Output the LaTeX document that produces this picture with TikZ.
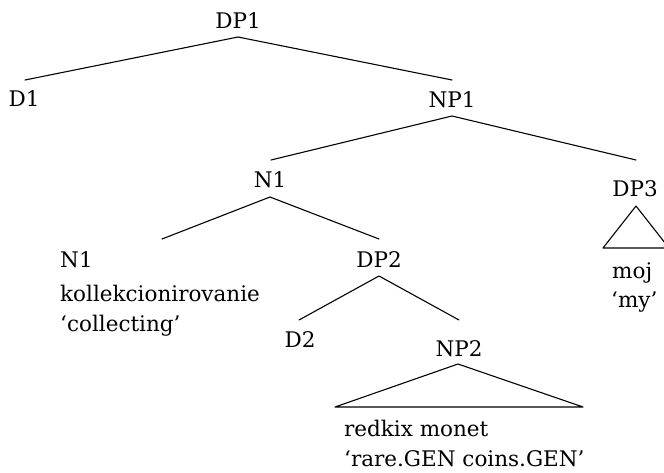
\documentclass[tikz,border=0pt]{standalone}
\usepackage{fontspec}
\setmainfont{DejaVu Serif}
\begin{document}
\begin{tikzpicture}[x=1pt,y=-1pt,
  lbl/.style={inner sep=0pt,anchor=base,font=\fontsize{21.5}{25}\selectfont},
  lblw/.style={lbl,anchor=base west},
  branch/.style={line width=1.1pt,line cap=round,line join=round}]
\useasboundingbox (0,0) rectangle (664,472);

% labels
\node[lbl]  (DP1)  at (238,28)  {DP1};
\node[lbl]  (D1)   at (24,106)  {D1};
\node[lbl]  (NP1)  at (452,107) {NP1};
\node[lbl]  (N1)   at (270,187) {N1};
\node[lbl]  (DP3)  at (635,196) {DP3};
\node[lblw] (N1l)  at (60,267)  {N1};
\node[lblw] (kol)  at (60,301)  {kollekcionirovanie};
\node[lblw] (col)  at (60,331)  {‘collecting’};
\node[lbl]  (DP2)  at (379,267) {DP2};
\node[lbl]  (D2)   at (300,347) {D2};
\node[lbl]  (NP2)  at (459,356) {NP2};
\node[lblw] (red)  at (344,436) {redkix monet};
\node[lblw] (rare) at (344,466) {‘rare.GEN coins.GEN’};
\node[lblw] (moj)  at (612,278) {moj};
\node[lblw] (my)   at (611,307) {‘my’};

% branch end points
\coordinate (DP1b) at (238,37);
\coordinate (D1t)  at (25,80);
\coordinate (NP1t) at (452,80);
\coordinate (NP1b) at (452,116);
\coordinate (N1t)  at (271,160);
\coordinate (DP3t) at (636,160);
\coordinate (N1b)  at (270,197);
\coordinate (N1lt) at (162,239);
\coordinate (DP2t) at (379,239);
\coordinate (DP2b) at (379,276);
\coordinate (D2t)  at (299,320);
\coordinate (NP2t) at (459,320);
\coordinate (NP2a) at (458,364);
\coordinate (NP2l) at (335,407);
\coordinate (NP2r) at (583,407);
\coordinate (DP3a) at (636,206);
\coordinate (DP3l) at (603,248);
\coordinate (DP3r) at (669,248);

% branches
\draw[branch] (D1t) -- (DP1b) -- (NP1t);
\draw[branch] (N1t) -- (NP1b) -- (DP3t);
\draw[branch] (N1lt) -- (N1b) -- (DP2t);
\draw[branch] (D2t) -- (DP2b) -- (NP2t);
\draw[branch] (NP2a) -- (NP2l) -- (NP2r) -- cycle;
\draw[branch] (DP3a) -- (DP3l) -- (DP3r) -- cycle;
\end{tikzpicture}
\end{document}
